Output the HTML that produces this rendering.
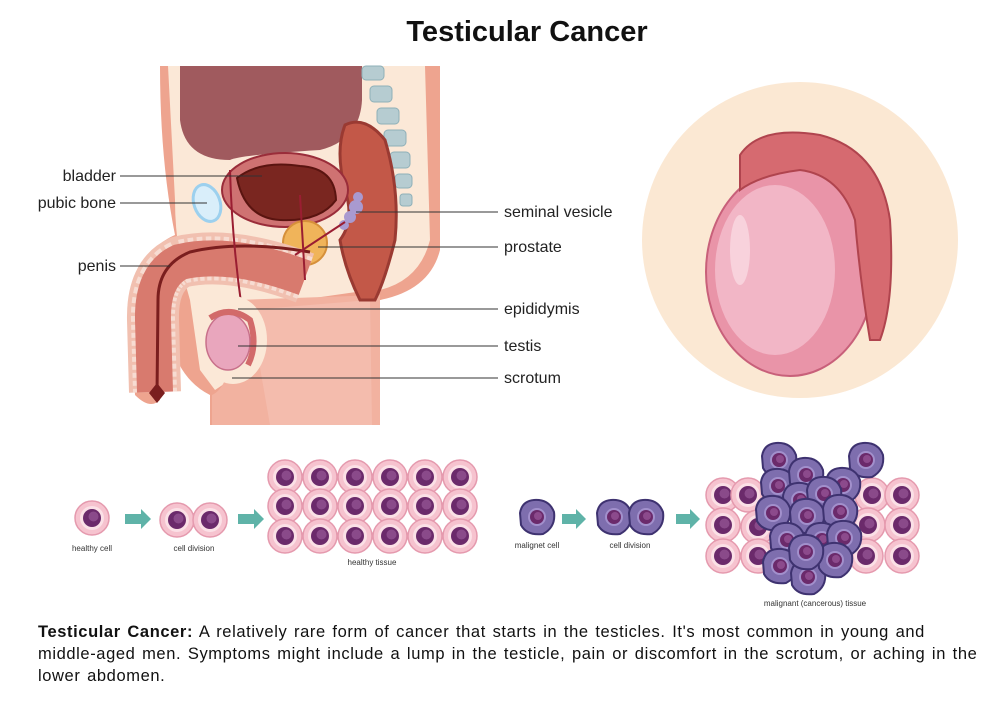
<!DOCTYPE html>
<html><head><meta charset="utf-8"><style>
body{margin:0;background:#fff;width:1000px;height:705px;overflow:hidden;font-family:"Liberation Sans",sans-serif}
svg{position:absolute;left:0;top:0}
.lb{font-size:16px;fill:#222}
.sm{font-size:8px;fill:#333}
p{position:absolute;left:38px;top:621px;width:1000px;margin:0;font-size:16.5px;line-height:22px;color:#111;letter-spacing:0.6px;word-spacing:1.5px;white-space:nowrap}
</style></head><body>
<svg width="1000" height="705" viewBox="0 0 1000 705">
<defs>
<g id="hc"><circle r="17" fill="#f6c3cf" stroke="#e59aae" stroke-width="1.5"/><circle r="12" fill="#fbe0e6"/><circle r="9" fill="#6b2a6b"/><circle cx="1.5" cy="-1.5" r="5" fill="#8a4a8a"/></g>
<g id="mc"><path d="M-17,-4 Q-15,-16 -3,-17 Q12,-18 17,-5 Q19,10 6,17 Q-10,19 -16,8Z" fill="#7e6eae" stroke="#3e3270" stroke-width="2"/><circle r="9" fill="#a290cc"/><circle r="7" fill="#6b2a6b"/><circle cx="1" cy="-1" r="4" fill="#8c4a8c"/></g>
</defs>
<text x="527" y="41" text-anchor="middle" font-size="29" font-weight="bold" fill="#111">Testicular Cancer</text>

<!-- anatomy -->
<path d="M160,66 L440,66 L440,250 Q430,290 380,300 L380,425 L210,425 L210,395 Q180,380 170,340 L175,290 Q150,300 150,340 L160,400 Q150,410 135,395 L130,300 Q140,250 175,235 Q160,160 160,66Z" fill="#eea48f"/>
<path d="M168,66 L425,66 L430,240 Q420,280 380,290 L370,290 L300,300 L240,300 L230,380 L215,390 L200,370 L190,300 Q175,250 175,200 Z" fill="#fbe8d7"/>
<path d="M238,300 L380,295 L380,425 L212,425 L212,395 Q235,385 238,300Z" fill="#f2b2a0"/>
<path d="M250,310 L370,300 L372,425 L270,425Z" fill="#f4bcad"/>
<path d="M180,66 L362,66 L362,100 Q360,140 320,150 Q240,155 230,160 Q185,160 180,120Z" fill="#a05a5e"/>
<g fill="#b6ccd1" stroke="#8fb0b8"><rect x="362" y="66" width="22" height="14" rx="4"/><rect x="370" y="86" width="22" height="16" rx="4"/><rect x="377" y="108" width="22" height="16" rx="4"/><rect x="384" y="130" width="22" height="16" rx="4"/><rect x="390" y="152" width="20" height="16" rx="4"/><rect x="395" y="174" width="17" height="14" rx="4"/><rect x="400" y="194" width="12" height="12" rx="3"/></g>
<path d="M345,125 Q365,115 385,140 Q400,190 395,240 Q385,280 375,300 L360,300 Q345,270 340,240 Q355,220 345,190 Q335,150 345,125Z" fill="#c35848" stroke="#9a3a32" stroke-width="3"/>
<ellipse cx="285" cy="190" rx="63" ry="37" fill="#cf7272" stroke="#9a2d3a" stroke-width="2"/>
<path d="M237,178 Q260,160 300,166 Q335,168 336,200 Q320,222 280,220 Q245,218 237,178Z" fill="#7a2620" stroke="#5a1410" stroke-width="2"/>
<ellipse cx="207" cy="203" rx="13" ry="19" fill="#d9eefa" stroke="#9cd0ee" stroke-width="3" transform="rotate(-20 207 203)"/>
<circle cx="305" cy="243" r="22" fill="#f0b45a" stroke="#d6903a" stroke-width="2"/>
<g fill="#a99ad0"><circle cx="356" cy="207" r="7"/><circle cx="350" cy="217" r="6"/><circle cx="344" cy="225" r="5"/><circle cx="358" cy="197" r="5"/></g>
<path d="M305,278 Q230,250 180,262 Q152,275 153,320 L155,392" stroke="#f1c0b0" stroke-width="52" fill="none"/>
<path d="M305,278 Q230,250 180,262 Q152,275 153,320 L155,392" stroke="#f7dcd2" stroke-width="44" fill="none" stroke-dasharray="5 3"/>
<path d="M305,278 Q230,250 180,262 Q152,275 153,320 L155,392" stroke="#d87a6e" stroke-width="36" fill="none"/>
<path d="M310,252 Q240,240 190,252 Q158,265 158,300 L157,395" stroke="#7a1e1e" stroke-width="3" fill="none"/>
<path d="M157,383 l-8,10 l8,10 l8,-10z" fill="#7a1e1e"/>
<path d="M230,170 Q232,240 242,310 M305,280 L300,195 M295,255 L345,222" stroke="#9a1e32" stroke-width="2" fill="none"/>
<ellipse cx="233" cy="340" rx="34" ry="44" fill="#fbe8d7"/>
<ellipse cx="228" cy="342" rx="22" ry="28" fill="#e9a6bd" stroke="#c8708a" stroke-width="1.5"/>
<path d="M210,318 Q230,305 250,320 Q258,345 248,365" stroke="#d26a6a" stroke-width="6" fill="none"/>
<g stroke="#333" stroke-width="1"><line x1="120" y1="176" x2="262" y2="176"/><line x1="120" y1="203" x2="207" y2="203"/><line x1="120" y1="266" x2="170" y2="266"/><line x1="356" y1="212" x2="498" y2="212"/><line x1="318" y1="247" x2="498" y2="247"/><line x1="238" y1="309" x2="498" y2="309"/><line x1="238" y1="346" x2="498" y2="346"/><line x1="232" y1="378" x2="498" y2="378"/></g>
<text class="lb" x="116" y="181" text-anchor="end">bladder</text>
<text class="lb" x="116" y="208" text-anchor="end">pubic bone</text>
<text class="lb" x="116" y="271" text-anchor="end">penis</text>
<text class="lb" x="504" y="217">seminal vesicle</text>
<text class="lb" x="504" y="252">prostate</text>
<text class="lb" x="504" y="314">epididymis</text>
<text class="lb" x="504" y="351">testis</text>
<text class="lb" x="504" y="383">scrotum</text>

<!-- zoomed testis -->
<circle cx="800" cy="240" r="158" fill="#fbe8d3"/>
<ellipse cx="790" cy="272" rx="84" ry="104" fill="#e994a8" stroke="#c8607a" stroke-width="2"/>
<ellipse cx="775" cy="270" rx="60" ry="85" fill="#f2b6c6"/>
<ellipse cx="740" cy="250" rx="10" ry="35" fill="#f8d2dc"/>
<path d="M740,155 Q760,125 820,135 Q880,150 890,220 Q895,300 880,340 L870,340 Q860,280 855,220 Q840,175 800,170 Q760,175 740,190Z" fill="#d66a70" stroke="#b0444e" stroke-width="2"/>

<!-- cells -->
<use href="#hc" x="92" y="518"/>
<use href="#hc" x="177" y="520"/><use href="#hc" x="210" y="520"/>
<g fill="#5fb3a8"><path d="M125,514 h16 v-5 l10,10 -10,10 v-5 h-16z"/><path d="M238,514 h16 v-5 l10,10 -10,10 v-5 h-16z"/><path d="M562,514 h14 v-5 l10,10 -10,10 v-5 h-14z"/><path d="M676,514 h14 v-5 l10,10 -10,10 v-5 h-14z"/></g>
<g>
<use href="#hc" x="285" y="477"/><use href="#hc" x="320" y="477"/><use href="#hc" x="355" y="477"/><use href="#hc" x="390" y="477"/><use href="#hc" x="425" y="477"/><use href="#hc" x="460" y="477"/>
<use href="#hc" x="285" y="506"/><use href="#hc" x="320" y="506"/><use href="#hc" x="355" y="506"/><use href="#hc" x="390" y="506"/><use href="#hc" x="425" y="506"/><use href="#hc" x="460" y="506"/>
<use href="#hc" x="285" y="536"/><use href="#hc" x="320" y="536"/><use href="#hc" x="355" y="536"/><use href="#hc" x="390" y="536"/><use href="#hc" x="425" y="536"/><use href="#hc" x="460" y="536"/>
</g>
<text class="sm" x="92" y="551" text-anchor="middle">healthy cell</text>
<text class="sm" x="194" y="551" text-anchor="middle">cell division</text>
<text class="sm" x="372" y="565" text-anchor="middle">healthy tissue</text>
<use href="#mc" x="537" y="517"/>
<use href="#mc" x="614" y="517"/><use href="#mc" x="646" y="517"/>
<text class="sm" x="537" y="548" text-anchor="middle">malignet cell</text>
<text class="sm" x="630" y="548" text-anchor="middle">cell division</text>
<use href="#hc" x="723" y="495"/><use href="#hc" x="748" y="495"/><use href="#hc" x="872" y="495"/><use href="#hc" x="902" y="495"/>
<use href="#hc" x="723" y="525"/><use href="#hc" x="758" y="527"/><use href="#hc" x="868" y="525"/><use href="#hc" x="902" y="525"/>
<use href="#hc" x="723" y="556"/><use href="#hc" x="758" y="556"/><use href="#hc" x="866" y="556"/><use href="#hc" x="902" y="556"/>
<use href="#mc" x="779" y="460"/><use href="#mc" x="866" y="460"/>
<use href="#mc" x="778" y="486"/><use href="#mc" x="806" y="475"/><use href="#mc" x="843" y="485"/>
<use href="#mc" x="800" y="500"/><use href="#mc" x="824" y="494"/>
<use href="#mc" x="773" y="513"/><use href="#mc" x="807" y="516"/><use href="#mc" x="840" y="512"/>
<use href="#mc" x="787" y="540"/><use href="#mc" x="822" y="540"/><use href="#mc" x="844" y="538"/>
<use href="#mc" x="780" y="566"/><use href="#mc" x="808" y="577"/><use href="#mc" x="835" y="560"/><use href="#mc" x="806" y="552"/>
<text class="sm" x="815" y="606" text-anchor="middle">malignant (cancerous) tissue</text>
</svg>
<p><b>Testicular Cancer:</b> A relatively rare form of cancer that starts in the testicles. It's most common in young and<br>middle-aged men. Symptoms might include a lump in the testicle, pain or discomfort in the scrotum, or aching in the<br>lower abdomen.</p>
</body></html>
